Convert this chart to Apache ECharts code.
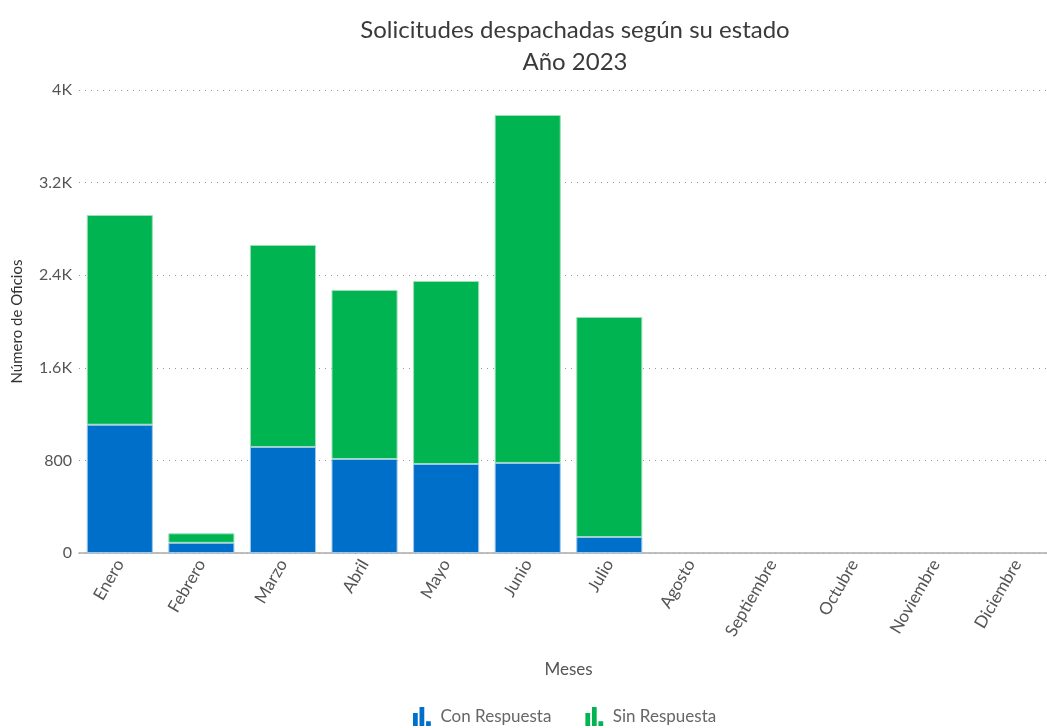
<!DOCTYPE html>
<html>
<head>
<meta charset="utf-8">
<script src="https://cdn.jsdelivr.net/npm/echarts@6/dist/echarts.min.js"></script>
<style>html,body{margin:0;padding:0;background:#fff}#c{width:1047px;height:728px}</style>
</head>
<body>
<div id="c"></div>
<script>
const months = ['Enero','Febrero','Marzo','Abril','Mayo','Junio','Julio','Agosto','Septiembre','Octubre','Noviembre','Diciembre'];
const conRespuesta = [1108, 88, 916, 812, 769, 778, 138, null, null, null, null, null];
const sinRespuesta = [1812, 82, 1745, 1460, 1581, 3006, 1901, null, null, null, null, null];
const yTicks = [0, 800, 1600, 2400, 3200, 4000];

const icon = 'path://M0,5 h4 v11 h-4 z M5.5,0 h4 v16 h-4 z M11,12 h4 v4 h-4 z';
const chart = echarts.init(document.getElementById('c'));
chart.setOption({
  animation: false,
  textStyle: { fontFamily: 'Lato' },
  title: {
    text: 'Solicitudes despachadas según su estado\nAño 2023',
    left: 570, top: 9, textAlign: 'center',
    textStyle: { fontFamily: 'Lato', fontSize: 24, fontWeight: 'normal', color: '#3a3a3a', lineHeight: 32 }
  },
  legend: {
    bottom: -3, left: 408, itemGap: 34, itemWidth: 19, itemHeight: 19,
    itemStyle: { borderWidth: 0 },
    textStyle: { fontFamily: 'Lato', fontSize: 17, color: '#666', padding: [0, 0, 0, 4] },
    data: [{ name: 'Con Respuesta', icon: icon }, { name: 'Sin Respuesta', icon: icon }]
  },
  grid: { left: 79, width: 979, top: 90, bottom: 175, containLabel: false, outerBoundsMode: 'none' },
  xAxis: {
    type: 'category', data: months,
    name: 'Meses', nameLocation: 'middle', nameGap: 108,
    nameTextStyle: { fontFamily: 'Lato', fontSize: 17, color: '#555' },
    axisLine: { lineStyle: { color: '#aaa', width: 1.5 } },
    axisTick: { show: false },
    axisLabel: { rotate: 60, interval: 0, fontSize: 17, color: '#555', margin: 8, fontFamily: 'Lato' }
  },
  yAxis: {
    type: 'value', min: yTicks[0], max: yTicks[yTicks.length - 1], interval: 800,
    name: 'Número de Oficios', nameLocation: 'middle', nameGap: 54,
    nameTextStyle: { fontFamily: 'Lato', fontSize: 15, color: '#333' },
    axisLine: { show: false }, axisTick: { show: false },
    axisLabel: {
      fontSize: 16, color: '#555', margin: 7, fontFamily: 'Lato',
      formatter: v => v >= 1000 ? (v / 1000) + 'K' : String(v)
    },
    splitLine: { lineStyle: { type: [1, 5], color: '#999', width: 1 } }
  },
  series: [
    { name: 'Con Respuesta', type: 'bar', stack: 'a', data: conRespuesta, barCategoryGap: '19%',
      itemStyle: { color: '#006fc9', borderColor: '#9cc6ee', borderWidth: 1 } },
    { name: 'Sin Respuesta', type: 'bar', stack: 'a', data: sinRespuesta,
      itemStyle: { color: '#00b451', borderColor: '#9be0b7', borderWidth: 1 } }
  ]
});
</script>
</body>
</html>
